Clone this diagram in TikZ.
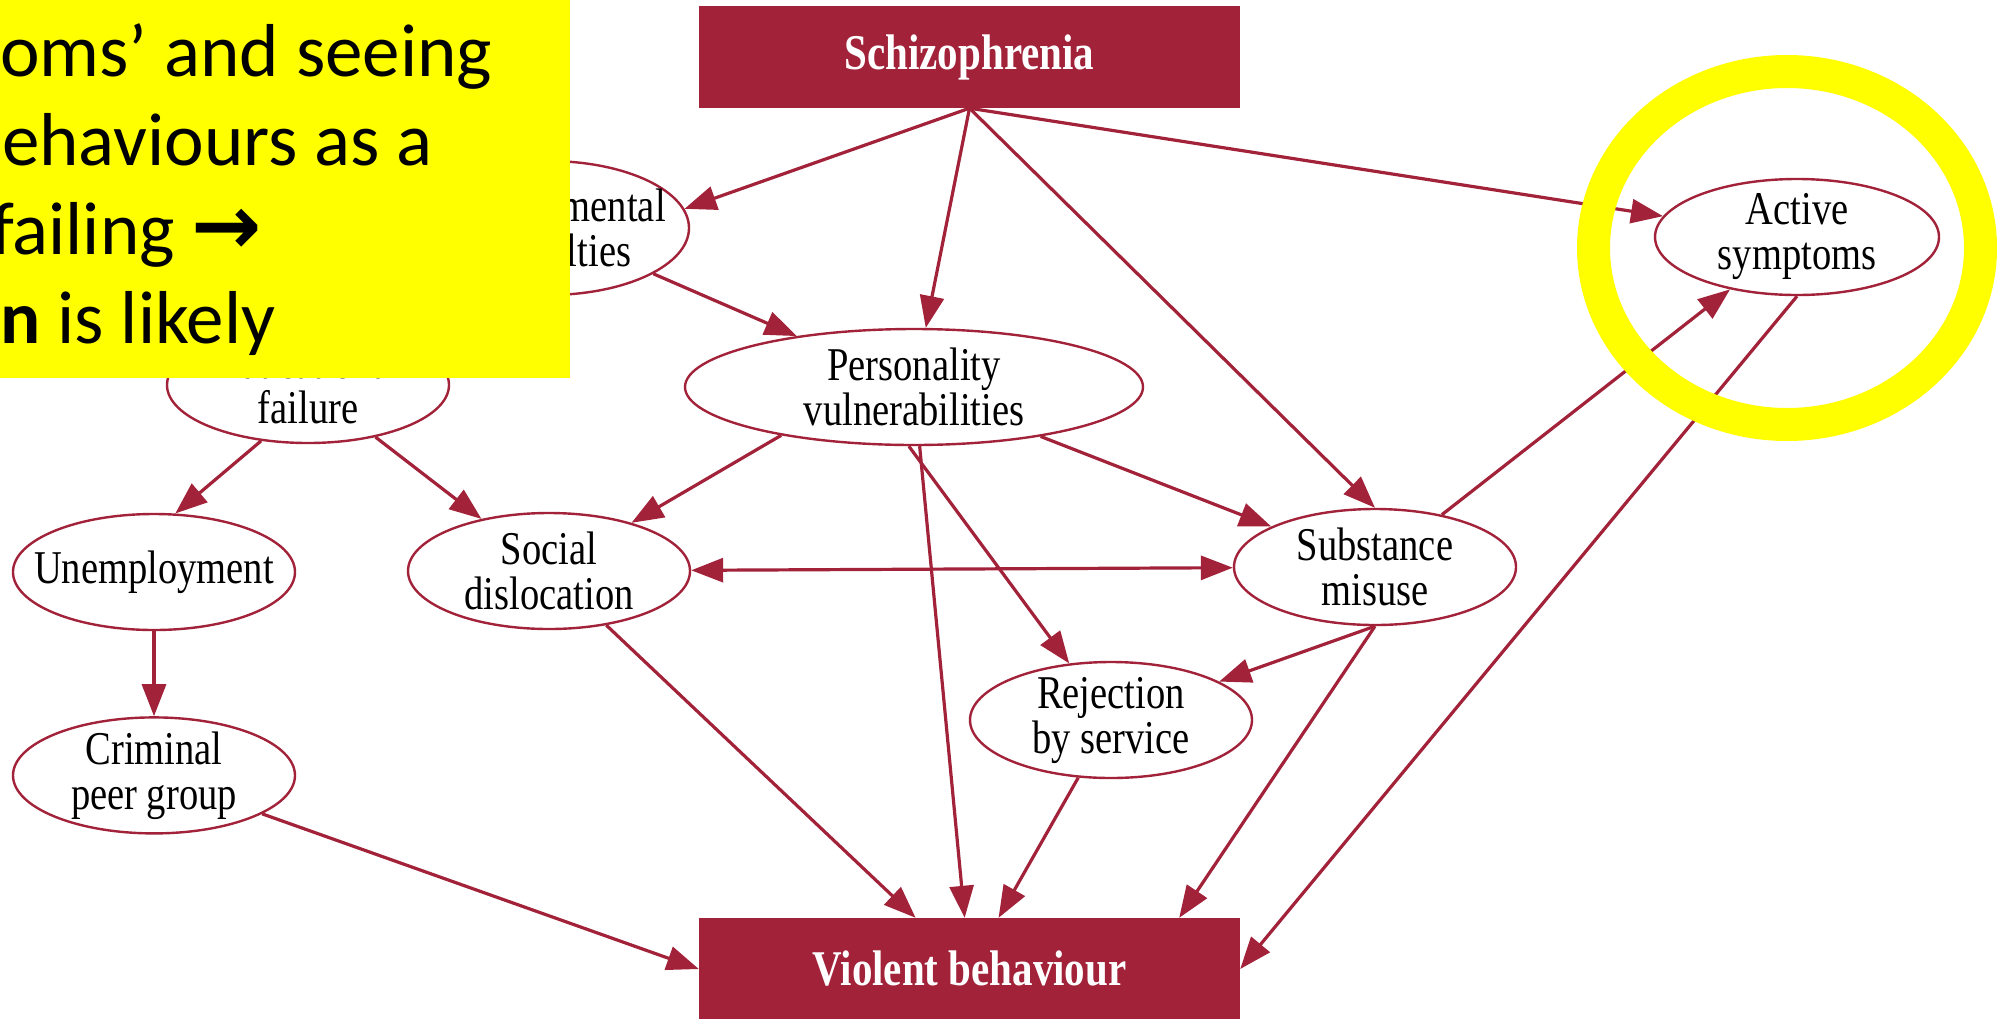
\documentclass[tikz,border=0pt]{standalone}
\usepackage{fontspec}
\setmainfont{Liberation Serif}[FakeStretch=0.82]
\newfontfamily\notefont{Carlito}
\newfontfamily\arrowfont{DejaVu Sans}
\usetikzlibrary{arrows.meta, positioning, shapes.geometric}
\definecolor{wine}{RGB}{162,34,58}
\definecolor{marker}{RGB}{255,255,0}

\begin{document}
\begin{tikzpicture}[
    x=1pt, y=-1pt,
    >={Triangle[length=32pt, width=24pt]},
    factor/.style={draw=wine, line width=2.4pt, ellipse, align=center, inner xsep=-25pt, inner ysep=-12pt, minimum width=282pt, minimum height=116pt, font=\fontsize{47}{45}\selectfont},
    outcome/.style={fill=wine, text=white, minimum width=541pt, minimum height=102pt, font=\fontsize{50}{50}\selectfont\bfseries},
    arr/.style={->, draw=wine, line width=3.2pt},
    noteline/.style={anchor=base west, inner sep=0pt, font=\notefont\fontsize{75}{90}\selectfont}
]
\useasboundingbox (0,0) rectangle (2010,1018);

\node[outcome] (schiz) at (969.5,57) {Schizophrenia};
\node[outcome] (viol) at (969.5,969) {Violent behaviour};

\node[factor, minimum height=134pt] (devel) at (548,228) {Developmental\\difficulties};
\node[factor] (educ) at (308,385) {Educational\\failure};
\node[factor] (unemp) at (154,572) {Unemployment};
\node[factor, below=85pt of unemp] (crim) {Criminal\\peer group};
\node[factor] (social) at (549,571) {Social\\dislocation};
\node[factor, minimum width=458pt] (person) at (914,387) {Personality\\vulnerabilities};
\node[factor] (subst) at (1375,567) {Substance\\misuse};
\node[factor] (reject) at (1111,720) {Rejection\\by service};
\node[factor, minimum width=284pt] (active) at (1797,237) {Active\\symptoms};

\draw[arr] (schiz.south) -- (devel.8);
\draw[arr] (schiz.south) -- (person);
\draw[arr] (schiz.south) -- (subst.north);
\draw[arr] (schiz.south) -- (active);
\draw[arr] (devel) -- (person);
\draw[arr] (educ.230) -- (unemp.70);
\draw[arr] (educ) -- (social);
\draw[arr] (unemp) -- (crim);
\draw[arr] (person.200) -- (social);
\draw[arr] (person) -- (subst);
\draw[arr] (person.265) -- (reject);
\draw[arr] (person) -- (viol);
\draw[arr, <->] (social) -- (subst);
\draw[arr] (social) -- (viol);
\draw[arr] (subst.south) -- (reject);
\draw[arr] (subst.south) -- ([xshift=-61pt]viol.north east);
\draw[arr] (subst) -- (active);
\draw[arr] (active.south) -- (viol.east);
\draw[arr] (reject) -- (viol);
\draw[arr] (crim) -- (viol.west);

\node[draw=marker, line width=33pt, ellipse, inner sep=0pt, minimum width=387pt, minimum height=353pt] (ring) at (1787,248) {};
\node[fill=marker, anchor=north west, inner sep=0pt, minimum width=570pt, minimum height=378pt] (note) at (0,0) {};
\node[noteline] (line1) at (0,76) {oms’ and seeing};
\node[noteline] (line2) at (2,165) {ehaviours as a};
\node[noteline] (line3) at (-9,254) {failing {\arrowfont\bfseries\fontsize{84}{84}\selectfont →}};
\node[noteline] (line4) at (0,343) {\textbf{n} is likely};
\end{tikzpicture}
\end{document}
